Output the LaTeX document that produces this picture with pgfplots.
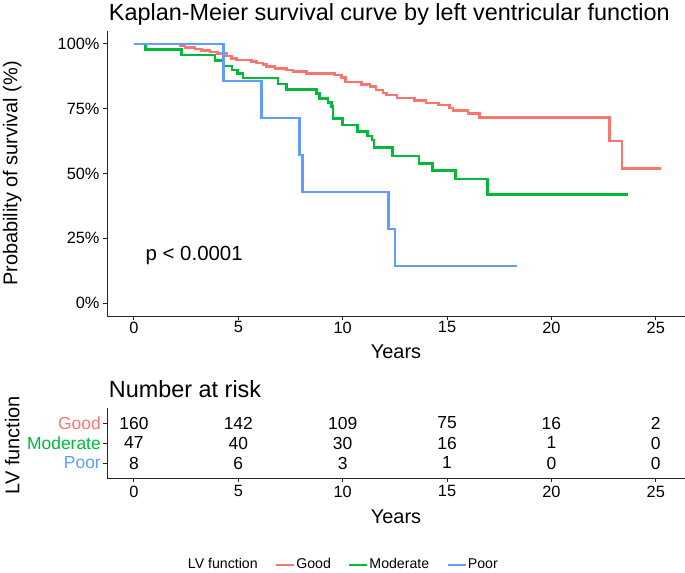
\documentclass[border=0pt]{standalone}
\usepackage{pgfplots}
\pgfplotsset{compat=1.18}
\usepackage{fontspec}
\setmainfont{Liberation Sans}
\definecolor{kmgood}{HTML}{F8766D}
\definecolor{kmmod}{HTML}{00BA38}
\definecolor{kmpoor}{HTML}{619CFF}

\pgfplotsset{
  kmframe/.style={
    scale only axis, anchor=south west,
    xmin=-1.29, xmax=26.4,
    axis lines=left, axis line style={-, line width=1bp, black!85},
    tick align=outside, major tick length=4bp,
    tick style={black!85, line width=1bp},
    xtick={0,5,...,25}, xticklabels={0,5,10,15,20,25},
    xticklabel style={inner sep=1.5bp},
    ticklabel style={font=\fontsize{16.4}{18}\selectfont},
    label style={font=\fontsize{20}{22}\selectfont},
    title style={anchor=base west, inner sep=0pt, font=\fontsize{23.5}{25}\selectfont},
  },
}

\begin{document}
\begin{tikzpicture}

\begin{axis}[
  kmframe,
  at={(107bp,257bp)}, width=578bp, height=285bp,
  ymin=-5, ymax=105,
  ytick={0,25,50,75,100}, yticklabels={0\%,25\%,50\%,75\%,100\%},
  xlabel={Years}, ylabel={Probability of survival (\%)},
  xlabel style={at={(axis description cs:0.5,-0.126)}, anchor=center},
  ylabel style={at={(axis description cs:-0.164,0.5)}, anchor=center},
  title={Kaplan-Meier survival curve by left ventricular function},
  title style={at={(axis description cs:0.003,1)}, yshift=5bp},
  legend columns=4,
  legend style={at={(axis description cs:0.408,-0.874)}, anchor=center,
    draw=none, fill=none, inner sep=0pt, font=\fontsize{14.2}{16}\selectfont,
    nodes={inner sep=1bp, text height=1.5ex, text depth=0.35ex},
    /tikz/every even column/.append style={column sep=16bp}},
  legend image code/.code={\draw[#1] (0bp,0bp) -- (18bp,0bp);},
]
\addlegendimage{empty legend}
\addlegendentry{LV function}

\addplot[const plot, kmgood, line width=2.6bp] coordinates {
(0,100) (2.2,99.4) (2.44,98.7) (2.92,98.1) (3.24,97.5) (3.64,96.9)
(3.99,96.2) (4.43,95.3) (4.67,94.4) (4.91,93.8) (5.63,93.2) (5.87,92.6)
(6.19,92.0) (6.35,91.4) (6.75,90.6) (7.3,90.0) (7.62,89.3) (8.26,88.7)
(9.62,88.0) (9.94,87.1) (10.14,85.3) (10.9,84.4) (11.3,83.5) (11.6,82.3)
(11.93,81.1) (12.1,80.3) (12.6,79.1) (13.44,78.2) (14.0,77.2) (14.6,76.4)
(15.12,75.3) (15.28,74.3) (16.0,73.2) (16.56,71.7) (22.78,62.6) (23.38,52.0)
(25.25,52.0)};
\addlegendentry{Good}

\addplot[const plot, kmmod, line width=2.6bp] coordinates {
(0,100) (0.56,97.9) (2.28,95.7) (3.88,93.6) (4.3,91.5) (4.7,90.0)
(4.95,88.5) (5.23,86.9) (6.9,84.6) (7.3,82.4) (8.74,80.9) (8.9,79.0)
(9.3,77.3) (9.46,75.8) (9.54,71.2) (10.0,68.7) (10.7,66.1) (11.2,64.5)
(11.4,62.9) (11.5,60.0) (12.4,56.7) (13.65,53.9) (14.3,51.2) (15.4,47.8)
(16.95,41.9) (23.65,41.9)};
\addlegendentry{Moderate}

\addplot[const plot, kmpoor, line width=2.6bp] coordinates {
(0,100) (4.3,85.7) (6.12,71.4) (7.94,57.1) (8.09,42.9) (12.2,28.6)
(12.5,14.3) (18.37,14.3)};
\addlegendentry{Poor}

\node[anchor=west, inner sep=0pt, font=\fontsize{20.5}{22}\selectfont]
  at (axis cs:0.55,18.5) {p < 0.0001};
\end{axis}

\begin{axis}[
  kmframe,
  at={(107bp,95bp)}, width=578bp, height=70bp,
  ymin=0.25, ymax=3.75,
  ytick={1,2,3},
  yticklabels={{\color{kmpoor}Poor},{\color{kmmod}Moderate},{\color{kmgood}Good}},
  yticklabel style={inner sep=2bp, font=\fontsize{17.5}{19}\selectfont},
  xticklabel style={yshift=-2bp},
  xlabel={Years}, ylabel={LV function},
  xlabel style={at={(axis description cs:0.5,-0.557)}, anchor=center},
  ylabel style={at={(axis description cs:-0.164,0.47)}, anchor=center},
  title={Number at risk},
  title style={at={(axis description cs:0.003,1)}, yshift=5bp},
]
\addplot[draw=none, nodes near coords, point meta=explicit symbolic,
  every node near coord/.append style={anchor=center, black,
    font=\fontsize{17.5}{19}\selectfont}]
  table[meta=n] {
x y n
0 3 160
5 3 142
10 3 109
15 3 75
20 3 16
25 3 2
0 2 47
5 2 40
10 2 30
15 2 16
20 2 1
25 2 0
0 1 8
5 1 6
10 1 3
15 1 1
20 1 0
25 1 0
};
\end{axis}

\pgfresetboundingbox
\path[use as bounding box] (0bp,0bp) rectangle (685bp,573bp);
\end{tikzpicture}
\end{document}
